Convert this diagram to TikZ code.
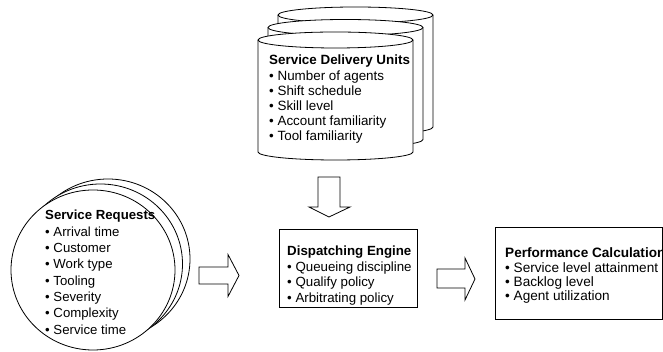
\documentclass[tikz,border=0pt]{standalone}
\usepackage{fontspec}
\setmainfont{Liberation Sans}
\begin{document}
\begin{tikzpicture}[x=1pt,y=1pt,
  outline/.style={draw=black, fill=white, line width=0.8pt},
  txt/.style={anchor=base west, inner sep=0pt, text=black},
  drum/.pic={
    \path[outline] (-77.5,0) -- (-77.5,-112)
      arc[start angle=180,end angle=360,x radius=77.5,y radius=8]
      -- (77.5,0)
      arc[start angle=0,end angle=180,x radius=77.5,y radius=8] -- cycle;
    \draw[line width=0.8pt] (-77.5,0)
      arc[start angle=180,end angle=360,x radius=77.5,y radius=8];
  }]
\useasboundingbox (0,0) rectangle (663,352);
\clip (0,0) rectangle (663,352);

% stacked service delivery units
\pic at (355.5,337) {drum};
\pic at (345.5,324.5) {drum};
\pic at (335.5,312) {drum};

% stacked service requests
\path[outline] (108,93) ellipse[x radius=82,y radius=80];
\path[outline] (100.5,88) ellipse[x radius=82,y radius=80];
\path[outline] (93,82) ellipse[x radius=82,y radius=80];

% boxes
\node[outline, anchor=south west, inner sep=0pt, minimum width=138pt, minimum height=78pt] (engine) at (279,44) {};
\node[outline, anchor=south west, inner sep=0pt, minimum width=167pt, minimum height=92pt] (perf) at (495,32) {};

% block arrows
\path[outline] (318,175) -- (340,175) -- (340,145) -- (350,145) -- (329,135) -- (309,145) -- (318,145) -- cycle;
\path[outline] (199,85) -- (228,85) -- (228,97.5) -- (239,76.5) -- (228,55.5) -- (228,68) -- (199,68) -- cycle;
\path[outline] (437,83) -- (465,83) -- (465,94) -- (475,73) -- (465,52) -- (465,64) -- (437,64) -- cycle;

% texts
\begin{scope}[font=\fontsize{13.4}{15}\selectfont]
\node[txt] (sdu-title) at (269,287) {\textbf{Service Delivery Units}};
\foreach \t [count=\i] in {Number of agents,Shift schedule,Skill level,Account familiarity,Tool familiarity}
  \node[txt] (sdu-\i) at (269,287-15.2*\i) {• \t};
\end{scope}

\begin{scope}[font=\fontsize{13.2}{15}\selectfont]
\node[txt] (sr-title) at (45,132) {\textbf{Service Requests}};
\foreach \t [count=\i] in {Arrival time,Customer,Work type,Tooling,Severity,Complexity,Service time}
  \node[txt] (sr-\i) at (45,132-16.3*\i) {• \t};
\end{scope}

\begin{scope}[font=\fontsize{13.3}{15}\selectfont]
\node[txt] (de-title) at (287,96.3) {\textbf{Dispatching Engine}};
\foreach \t [count=\i] in {Queueing discipline,Qualify policy,Arbitrating policy}
  \node[txt] (de-\i) at (287,96.3-15.5*\i) {• \t};
\end{scope}

\begin{scope}[font=\fontsize{13.6}{15}\selectfont]
\node[txt] (pc-title) at (505,94) {\textbf{Performance Calculation}};
\foreach \t [count=\i] in {Service level attainment,Backlog level,Agent utilization}
  \node[txt] (pc-\i) at (505,94-14.3*\i) {• \t};
\end{scope}
\end{tikzpicture}
\end{document}
